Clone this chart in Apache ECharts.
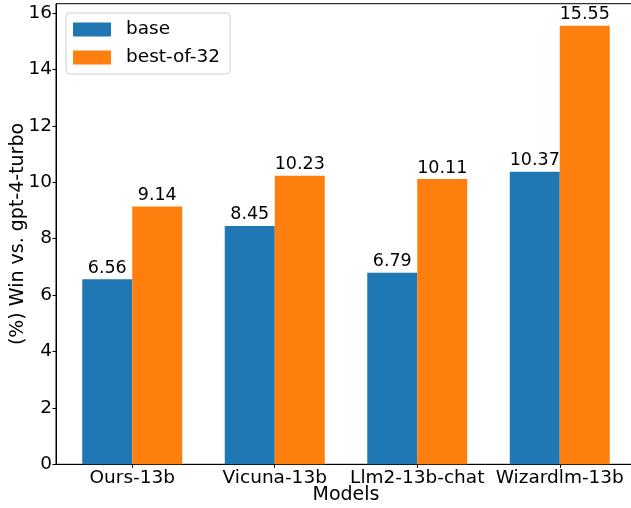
<!DOCTYPE html>
<html>
<head>
<meta charset="utf-8">
<script src="https://cdn.jsdelivr.net/npm/echarts@6/dist/echarts.min.js"></script>
<style>
  html, body { margin: 0; padding: 0; background: #fff; }
  #main { width: 631px; height: 508px; }
</style>
</head>
<body>
<div id="main"></div>
<script>
// 数据
const models = ["Ours-13b", "Vicuna-13b", "Llm2-13b-chat", "Wizardlm-13b"];
const baseValues = [6.56, 8.45, 6.79, 10.37];
const bestValues = [9.14, 10.23, 10.11, 15.55];
const yTicks = [0, 2, 4, 6, 8, 10, 12, 14, 16];

const FONT = "DejaVu Sans";
const TICK_SIZE = 18.5;

const toPoints = (vals) => vals.map((v, i) => [i, v]);

const valueLabel = {
  show: true,
  position: "top",
  distance: 2,
  fontFamily: FONT,
  fontSize: 17.5,
  color: "#000",
  formatter: (p) => p.value[1].toFixed(2),
};

var chartDom = document.getElementById("main");
var myChart = echarts.init(chartDom);
var option;

option = {
  animation: false,
  textStyle: { fontFamily: FONT },
  grid: {
    left: 56,
    right: -5,
    top: 3.7,
    bottom: 43.7,
    outerBoundsMode: "none",
    containLabel: false,
    show: true,
    borderColor: "#000",
    borderWidth: 1,
    backgroundColor: "transparent",
  },
  legend: {
    orient: "vertical",
    left: 66,
    top: 13,
    padding: [7, 10, 7, 7],
    itemWidth: 38,
    itemHeight: 14,
    itemGap: 9,
    borderColor: "#d0d0d0",
    borderWidth: 1,
    borderRadius: 4,
    backgroundColor: "rgba(255,255,255,0.8)",
    icon: "rect",
    textStyle: { fontFamily: FONT, fontSize: TICK_SIZE, color: "#000", padding: [0, 0, 0, 10] },
    data: ["base", "best-of-32"],
  },
  xAxis: {
    type: "value",
    min: -0.535,
    max: 3.535,
    name: "Models",
    nameLocation: "middle",
    nameGap: 21,
    nameMoveOverlap: false,
    nameTextStyle: { fontFamily: FONT, fontSize: 19, color: "#000" },
    splitLine: { show: false },
    axisLine: { show: true, onZero: false, lineStyle: { color: "#000", width: 1 } },
    axisTick: { show: true, customValues: [0, 1, 2, 3], length: 3.5, lineStyle: { color: "#000" } },
    axisLabel: {
      customValues: [0, 1, 2, 3],
      margin: 4,
      fontFamily: FONT,
      fontSize: TICK_SIZE,
      color: "#000",
      formatter: (v) => models[Math.round(v)],
    },
  },
  yAxis: {
    type: "value",
    min: 0,
    max: 16.3275,
    interval: 2,
    name: "(%) Win vs. gpt-4-turbo",
    nameLocation: "middle",
    nameGap: 28,
    nameMoveOverlap: false,
    nameTextStyle: { fontFamily: FONT, fontSize: 19, color: "#000" },
    splitLine: { show: false },
    axisLine: { show: true, onZero: false, lineStyle: { color: "#000", width: 1 } },
    axisTick: { show: true, length: 3.5, lineStyle: { color: "#000" } },
    axisLabel: {
      margin: 4,
      fontFamily: FONT,
      fontSize: TICK_SIZE,
      color: "#000",
      showMaxLabel: false,
      formatter: (v) => (yTicks.includes(v) ? String(v) : ""),
    },
  },
  series: [
    {
      name: "base",
      type: "bar",
      data: toPoints(baseValues),
      barWidth: 50,
      barGap: "0%",
      itemStyle: { color: "#1f77b4" },
      label: valueLabel,
    },
    {
      name: "best-of-32",
      type: "bar",
      data: toPoints(bestValues),
      barWidth: 50,
      barGap: "0%",
      itemStyle: { color: "#ff7f0e" },
      label: valueLabel,
    },
  ],
};

option && myChart.setOption(option);
</script>
</body>
</html>
